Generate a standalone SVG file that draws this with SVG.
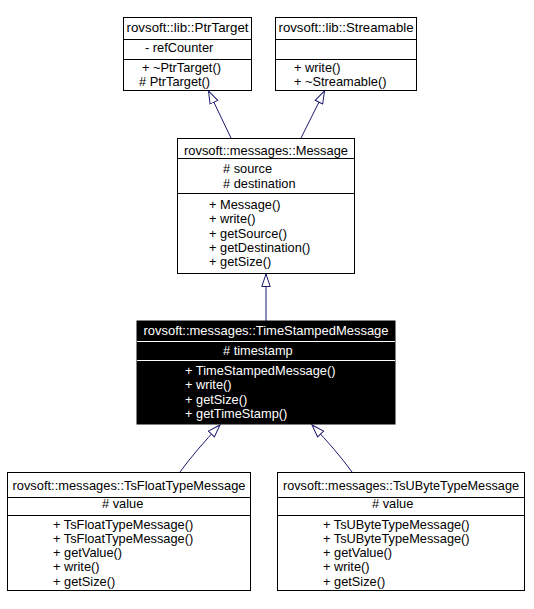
<svg xmlns="http://www.w3.org/2000/svg" width="534" height="609" viewBox="0 0 534 609">
<style>
text{font-family:"Liberation Sans",Arial,Helvetica,sans-serif;font-size:12.8px;fill:#000}
.t{text-anchor:middle}
.box{fill:#fff;stroke:#000;stroke-width:1}
.sep{stroke:#000;stroke-width:1}
.dark .box{fill:#000;stroke:#000}
.dark .sep{stroke:#fff}
.dark text{fill:#fff}
.edge{fill:none;stroke:#191970;stroke-width:1;marker-end:url(#inh)}
</style>
<defs>
<marker id="inh" markerUnits="userSpaceOnUse" viewBox="0 0 14 10" refX="13" refY="5" markerWidth="14" markerHeight="10" orient="auto">
<path d="M0.5,0.8 L13,5 L0.5,9.2 Z" fill="#fff" stroke="#191970" stroke-width="1"/>
</marker>
</defs>
<rect width="534" height="609" fill="#fff"/>
<g id="connectors">
<path class="edge" d="M231,138 L208.5,91"/>
<path class="edge" d="M301,138 L324.5,91"/>
<path class="edge" d="M266,321 L266,274"/>
<path class="edge" d="M180,472 Q196,450 220,425"/>
<path class="edge" d="M352,472 Q336,450 312,425"/>
</g>
<g id="PtrTarget">
<rect class="box" x="123.5" y="17.5" width="128" height="73"/>
<line class="sep" x1="123.5" y1="39.5" x2="251.5" y2="39.5"/>
<line class="sep" x1="123.5" y1="59.5" x2="251.5" y2="59.5"/>
<text class="t" x="187.5" y="32" textLength="122" lengthAdjust="spacingAndGlyphs">rovsoft::lib::PtrTarget</text>
<text x="145" y="52">- refCounter</text>
<text x="142" y="72">+ ~PtrTarget()</text>
<text x="139" y="86">#&#160;PtrTarget()</text>
</g>
<g id="Streamable">
<rect class="box" x="275.5" y="17.5" width="141" height="73"/>
<line class="sep" x1="275.5" y1="39.5" x2="416.5" y2="39.5"/>
<line class="sep" x1="275.5" y1="59.5" x2="416.5" y2="59.5"/>
<text class="t" x="346" y="32" textLength="135" lengthAdjust="spacingAndGlyphs">rovsoft::lib::Streamable</text>
<text x="294" y="72">+ write()</text>
<text x="294" y="86">+ ~Streamable()</text>
</g>
<g id="Message">
<rect class="box" x="177.5" y="138.5" width="177" height="135"/>
<line class="sep" x1="177.5" y1="158.5" x2="354.5" y2="158.5"/>
<line class="sep" x1="177.5" y1="193.5" x2="354.5" y2="193.5"/>
<text class="t" x="266" y="155" textLength="164" lengthAdjust="spacingAndGlyphs">rovsoft::messages::Message</text>
<text x="223" y="173.3"># source</text>
<text x="223" y="187.5"># destination</text>
<text x="209" y="209">+ Message()</text>
<text x="209" y="223.3">+ write()</text>
<text x="209" y="237.6">+ getSource()</text>
<text x="209" y="252">+ getDestination()</text>
<text x="209" y="266.3">+ getSize()</text>
</g>
<g id="TimeStampedMessage" class="dark">
<rect class="box" x="137" y="321" width="258" height="103"/>
<line class="sep" x1="137" y1="341.5" x2="395" y2="341.5"/>
<line class="sep" x1="137" y1="360.5" x2="395" y2="360.5"/>
<text class="t" x="266" y="335" textLength="245" lengthAdjust="spacingAndGlyphs">rovsoft::messages::TimeStampedMessage</text>
<text x="223" y="355"># timestamp</text>
<text x="185" y="375">+ TimeStampedMessage()</text>
<text x="185" y="389.3">+ write()</text>
<text x="185" y="403.5">+ getSize()</text>
<text x="185" y="417.8">+ getTimeStamp()</text>
</g>
<g id="TsFloatTypeMessage">
<rect class="box" x="7.5" y="472.5" width="243" height="118"/>
<line class="sep" x1="7.5" y1="497.5" x2="250.5" y2="497.5"/>
<line class="sep" x1="7.5" y1="515.5" x2="250.5" y2="515.5"/>
<text class="t" x="129" y="490" textLength="233" lengthAdjust="spacingAndGlyphs">rovsoft::messages::TsFloatTypeMessage</text>
<text x="102" y="508"># value</text>
<text x="53" y="528.5">+ TsFloatTypeMessage()</text>
<text x="53" y="542.8">+ TsFloatTypeMessage()</text>
<text x="53" y="557">+ getValue()</text>
<text x="53" y="571.2">+ write()</text>
<text x="53" y="585.5">+ getSize()</text>
</g>
<g id="TsUByteTypeMessage">
<rect class="box" x="277.5" y="472.5" width="247" height="118"/>
<line class="sep" x1="277.5" y1="497.5" x2="524.5" y2="497.5"/>
<line class="sep" x1="277.5" y1="515.5" x2="524.5" y2="515.5"/>
<text class="t" x="401" y="490" textLength="236" lengthAdjust="spacingAndGlyphs">rovsoft::messages::TsUByteTypeMessage</text>
<text x="372" y="508"># value</text>
<text x="323" y="528.5">+ TsUByteTypeMessage()</text>
<text x="323" y="542.8">+ TsUByteTypeMessage()</text>
<text x="323" y="557">+ getValue()</text>
<text x="323" y="571.2">+ write()</text>
<text x="323" y="585.5">+ getSize()</text>
</g>
</svg>
